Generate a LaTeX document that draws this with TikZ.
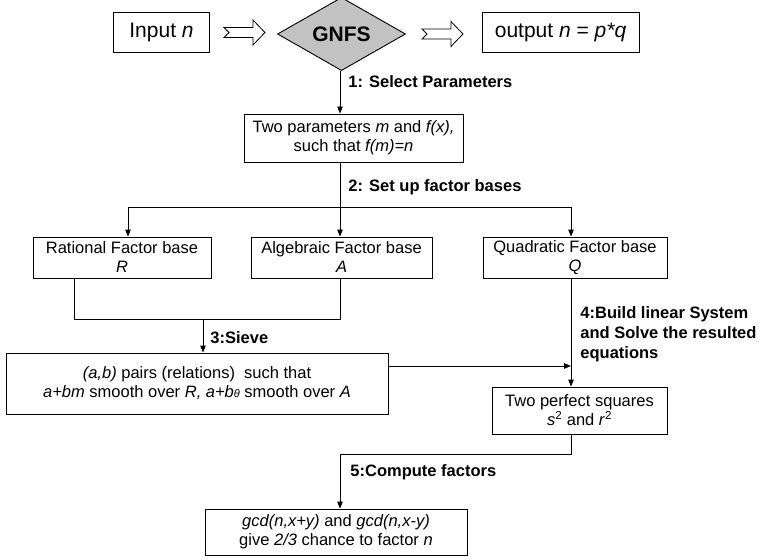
\documentclass[tikz,border=0pt]{standalone}
\usepackage{fontspec}
\setmainfont{Liberation Sans}
\usetikzlibrary{shapes.geometric,arrows.meta}

\begin{document}
\begin{tikzpicture}[x=1pt,y=-1pt,
  line width=0.9pt,
  box/.style={draw, rectangle, inner sep=0pt, align=center,
    font=\fontsize{16.5}{19}\selectfont},
  topbox/.style={draw, rectangle, inner sep=0pt,
    font=\fontsize{21}{24}\selectfont},
  decision/.style={draw, diamond, fill=black!24, inner sep=0pt,
    font=\fontsize{21}{24}\selectfont\bfseries},
  steplabel/.style={anchor=west, inner sep=0pt, align=left,
    font=\fontsize{16.5}{20}\selectfont\bfseries},
  flow/.style={-{Triangle[length=7pt,width=5.5pt]}},
  hollowarrow/.pic={
    \draw[fill=white, line width=0.8pt]
      (0,-5) -- (29,-5) -- (29,-12.5) -- (41,0) -- (29,12.5)
      -- (29,5) -- (0,5) -- (5,0) -- cycle;}
]
\useasboundingbox (0,0) rectangle (759,559);

% top row: input, method, output
\node[topbox, minimum width=96pt, minimum height=40pt] (in) at (161.5,32.5) {Input \textit{n}};
\node[decision, minimum width=128pt, minimum height=57pt] (gn) at (341.5,34) {GNFS};
\node[topbox, minimum width=157pt, minimum height=40pt] (out) at (560.5,32.5) {output \textit{n} = \textit{p*q}};
\path (in.east) ++(14,0) pic {hollowarrow};
\path (gn.east) ++(16,0) pic {hollowarrow};

% step boxes
\node[box, minimum width=219pt, minimum height=48pt] (par) at (353.5,138)
  {Two parameters \textit{m} and \textit{f(x),}\\ such that \textit{f(m)=n}};
\node[box, minimum width=178pt, minimum height=41pt] (rb) at (122,257.5)
  {Rational Factor base\\ \textit{R}};
\node[box, minimum width=181pt, minimum height=41pt] (ab) at (341.5,257.5)
  {Algebraic Factor base\\ \textit{A}};
\node[box, minimum width=184pt, minimum height=41pt] (qb) at (575,257.5)
  {Quadratic Factor base\\ \textit{Q}};
\node[box, minimum width=382pt, minimum height=61pt] (sv) at (197,383.5)
  {\textit{(a,b)} pairs (relations)\ \ such that\\
   \textit{a+bm} smooth over \textit{R, a+b}{\fontsize{11}{11}\selectfont\itshape θ} smooth over \textit{A}};
\node[box, minimum width=175pt, minimum height=47pt] (sq) at (579.5,410.5)
  {Two perfect squares\\ \textit{s}\textsuperscript{2} and \textit{r}\textsuperscript{2}};
\node[box, minimum width=262pt, minimum height=46pt] (gc) at (336,532)
  {\textit{gcd(n,x+y)} and \textit{gcd(n,x-y)}\\ give \textit{2/3} chance to factor \textit{n}};

% junction points of the connectors
\coordinate (busL) at (128,207);
\coordinate (busM) at (340,207);
\coordinate (busR) at (571,207);
\coordinate (joinL) at (74,319);
\coordinate (joinR) at (340,319);
\coordinate (joinM) at (203,319);
\coordinate (meet) at (571,366);
\coordinate (joinB) at (340,454);

% connectors
\draw[flow] (gn.south -| busM) -- (busM |- par.north);
\draw (busM |- par.south) -- (busM);
\draw (busL) -- (busR);
\draw[flow] (busL) -- (busL |- rb.north);
\draw[flow] (busM) -- (busM |- ab.north);
\draw[flow] (busR) -- (busR |- qb.north);
\draw (joinL |- rb.south) -- (joinL) -- (joinR) -- (joinR |- ab.south);
\draw[flow] (joinM) -- (joinM |- sv.north);
\draw[flow] (sv.east |- meet) -- (meet);
\draw[flow] (meet |- qb.south) -- (meet |- sq.north);
\draw[flow] (meet |- sq.south) -- (meet |- joinB) -- (joinB) -- (joinB |- gc.north);

% step labels
\node[steplabel] (l1) at (348,82) {1: Select Parameters};
\node[steplabel] (l2) at (348,187) {2: Set up factor bases};
\node[steplabel] (l3) at (210,338) {3:Sieve};
\node[steplabel] (l4) at (580,334) {4:Build linear System\\and Solve the resulted\\equations};
\node[steplabel] (l5) at (350,472) {5:Compute factors};
\end{tikzpicture}
\end{document}
